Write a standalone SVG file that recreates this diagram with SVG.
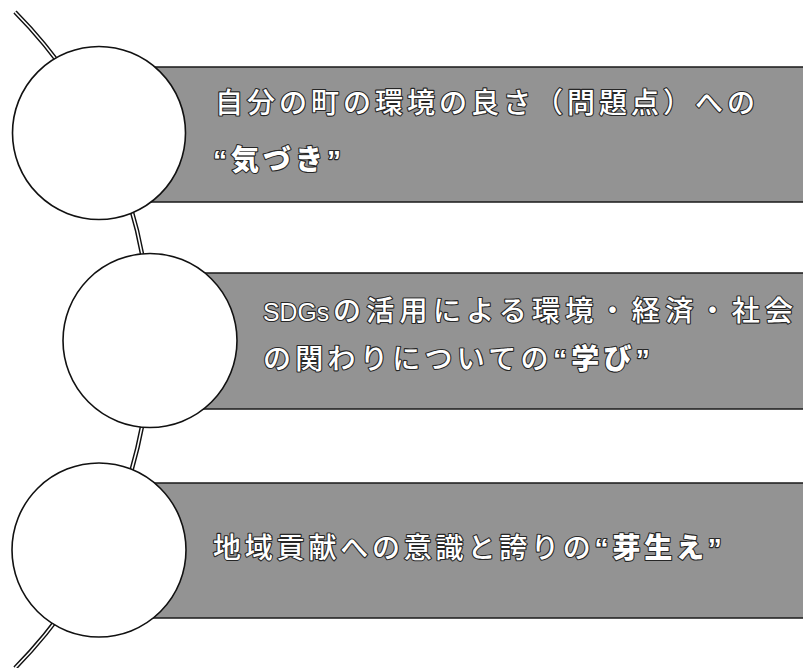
<svg xmlns="http://www.w3.org/2000/svg" width="803" height="668" viewBox="0 0 803 668">
<style>
.band{fill:#939393;stroke:#1a1a1a;stroke-width:1.5}
.node{fill:#fff;stroke:#111;stroke-width:1.6}
.lbl{font-family:"Liberation Sans","Noto Sans CJK JP",sans-serif;font-size:28px;font-weight:500;fill:#fff;stroke:#262626;stroke-width:2.2;paint-order:stroke;stroke-linejoin:round}
.lbl.b,.lbl .b{font-weight:900}
.outer{fill:none;stroke:#111;stroke-width:4.5}
.inner{fill:none;stroke:#fff;stroke-width:1.6}
</style>
<g id="connectors">
<path class="outer" d="M 15 12 A 466 466 0 0 1 15 668"/>
<path class="inner" d="M 15 12 A 466 466 0 0 1 15 668"/>
</g>
<g id="node1">
<rect class="band" x="120" y="67" width="700" height="135"/>
<circle class="node" cx="99" cy="133" r="86.5"/>
<text class="lbl" x="215" y="113" letter-spacing="4">自分の町の環境の良さ（問題点）への</text>
<text class="lbl b" x="213" y="170" letter-spacing="4">“気づき”</text>
</g>
<g id="node2">
<rect class="band" x="170" y="273" width="650" height="136"/>
<circle class="node" cx="150" cy="340.5" r="87"/>
<text class="lbl" x="263" y="321" letter-spacing="5.3"><tspan font-size="26" letter-spacing="0" textLength="66" lengthAdjust="spacingAndGlyphs">SDGs</tspan><tspan x="333">の活用による環境・経済・社会</tspan></text>
<text class="lbl" x="263" y="369" letter-spacing="4.3">の関わりについての<tspan class="b">“学び”</tspan></text>
</g>
<g id="node3">
<rect class="band" x="120" y="483" width="700" height="135"/>
<circle class="node" cx="99" cy="550" r="87"/>
<text class="lbl" x="213" y="558" letter-spacing="3.8">地域貢献への意識と誇りの<tspan class="b">“芽生え”</tspan></text>
</g>
</svg>
